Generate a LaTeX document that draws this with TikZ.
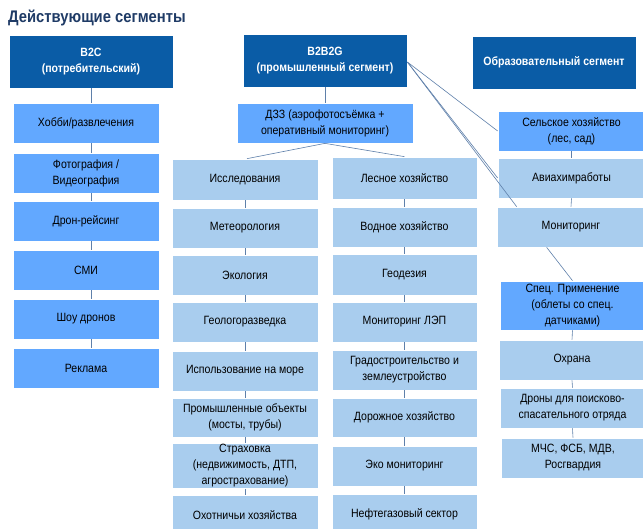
\documentclass[tikz,border=0pt]{standalone}
\usepackage{fontspec}
\setmainfont[FakeStretch=0.88]{Liberation Sans}
\usetikzlibrary{calc}
\definecolor{darkb}{HTML}{0A5CA6}
\definecolor{brightb}{HTML}{62A8FF}
\definecolor{lightb}{HTML}{A9CDEE}
\definecolor{linec}{HTML}{5F80AA}
\definecolor{titlec}{HTML}{1F3B66}
\newcommand{\mybox}[7]{\node[#2, minimum width={#5-#3}, minimum height={#6-#4}] (#1) at ({(#3+#5)/2},{(#4+#6)/2}) {#7};}
\begin{document}
\begin{tikzpicture}[x=1pt,y=-1pt,
  base/.style={rectangle, inner sep=1pt, align=center, text=black, draw=white, line width=0.7pt,
    font=\fontsize{12}{16}\selectfont},
  dk/.style={base, fill=darkb, text=white, font=\bfseries\fontsize{12}{16}\selectfont},
  br/.style={base, fill=brightb},
  lt/.style={base, fill=lightb},
  conn/.style={draw=linec, line width=0.6pt}]
\useasboundingbox (0,0) rectangle (643,528);
\fill[white] (0,0) rectangle (643,528);
\clip (0,0) rectangle (643,528);

\node[anchor=west, inner sep=0pt, text=titlec, font=\bfseries\fontsize{16.8}{19}\selectfont] (title) at (8,18) {Действующие сегменты};

% top segment boxes
\mybox{b2c}{dk}{9}{35}{173}{88}{B2C\\(потребительский)}
\mybox{b2b}{dk}{243}{34}{407}{87}{B2B2G\\(промышленный сегмент)}
\mybox{edu}{dk}{472}{36}{636}{89}{Образовательный сегмент}

% B2C column
\mybox{h1}{br}{13}{103}{159}{143}{Хобби/развлечения}
\mybox{h2}{br}{13}{153}{159}{193}{Фотография /\\Видеография}
\mybox{h3}{br}{13}{201}{159}{241}{Дрон-рейсинг}
\mybox{h4}{br}{13}{250}{159}{290}{СМИ}
\mybox{h5}{br}{13}{299}{159}{339}{Шоу дронов}
\mybox{h6}{br}{13}{348}{159}{388}{Реклама}

% DZZ
\mybox{dzz}{br}{237}{103}{413}{143}{ДЗЗ (аэрофотосъёмка +\\оперативный мониторинг)}

% left sub-column
\mybox{l1}{lt}{172}{159}{318}{200}{Исследования}
\mybox{l2}{lt}{172}{208}{318}{248}{Метеорология}
\mybox{l3}{lt}{172}{255}{318}{295}{Экология}
\mybox{l4}{lt}{172}{302}{318}{342}{Геологоразведка}
\mybox{l5}{lt}{172}{351}{318}{391}{Использование на море}
\mybox{l6}{lt}{172}{398}{318}{437}{Промышленные объекты\\(мосты, трубы)}
\mybox{l7}{lt}{172}{446}{318}{486}{Страховка\\(недвижимость, ДТП,\\агрострахование)}
\mybox{l8}{lt}{172}{495}{318}{535}{Охотничьи хозяйства}

% right sub-column
\mybox{r1}{lt}{332}{157}{477}{199}{Лесное хозяйство}
\mybox{r2}{lt}{332}{207}{477}{247}{Водное хозяйство}
\mybox{r3}{lt}{332}{254}{477}{295}{Геодезия}
\mybox{r4}{lt}{332}{302}{477}{342}{Мониторинг ЛЭП}
\mybox{r5}{lt}{332}{350}{477}{390}{Градостроительство и\\землеустройство}
\mybox{r6}{lt}{332}{398}{477}{437}{Дорожное хозяйство}
\mybox{r7}{lt}{332}{446}{477}{486}{Эко мониторинг}
\mybox{r8}{lt}{332}{494}{477}{534}{Нефтегазовый сектор}

% third column
\mybox{s1}{br}{498}{111}{645}{151}{Сельское хозяйство\\(лес, сад)}
\mybox{s2}{lt}{498}{158}{645}{198}{Авиахимработы}
\mybox{s3}{lt}{497}{207}{645}{247}{Мониторинг}
\mybox{sp}{br}{500}{281}{645}{330}{Спец. Применение\\(облеты со спец.\\датчиками)}
\mybox{o1}{lt}{499}{340}{645}{380}{Охрана}
\mybox{o2}{lt}{500}{388}{645}{428}{Дроны для поисково-\\спасательного отряда}
\mybox{o3}{lt}{501}{438}{645}{478}{МЧС, ФСБ, МДВ,\\Росгвардия}

% connectors B2C
\draw[conn] (b2c.south) -- (b2c.south |- h1.north);
\foreach \a/\b in {h1/h2,h2/h3,h3/h4,h4/h5,h5/h6}
  \draw[conn] (\a.south -| b2c.south) -- (\b.north -| b2c.south);

% connectors B2B2G
\draw[conn] (b2b.south) -- (dzz.north);
\draw[conn] (dzz.south) -- ($(l1.north)+(2,0)$);
\draw[conn] (dzz.south) -- (r1.north);
\foreach \a/\b in {l1/l2,l2/l3,l3/l4,l4/l5,l5/l6,l6/l7,l7/l8}
  \draw[conn] (\a.south) -- (\b.north);
\foreach \a/\b in {r1/r2,r2/r3,r3/r4,r4/r5,r5/r6,r6/r7,r7/r8}
  \draw[conn] (\a.south) -- (\b.north);

\draw[conn] ($(b2b.east)+(0,1.5)$) -- (s1.west);
\draw[conn] ($(b2b.east)+(0,1.5)$) -- (s2.west);
\draw[conn] ($(b2b.east)+(0,1.5)$) -- ($(s3.north west)+(20,0)$);
\draw[conn] (s1.south) -- (s2.north);
\draw[conn] (s2.south) -- (s3.north);
\draw[conn] ($(s3.south west)+(50,0)$) -- (sp.north);
\draw[conn] (sp.south) -- (o1.north);
\draw[conn] (o1.south) -- (o2.north);
\draw[conn] (o2.south) -- (o3.north);
\end{tikzpicture}
\end{document}
